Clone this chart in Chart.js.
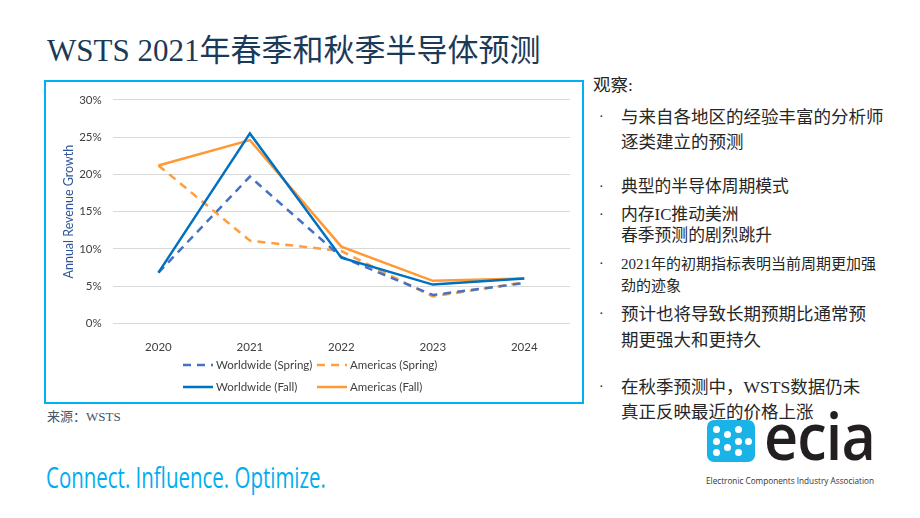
<!DOCTYPE html>
<html>
<head>
<meta charset="utf-8">
<script src="https://cdn.jsdelivr.net/npm/chart.js@4.4.0/dist/chart.umd.min.js"></script>
<style>
  body { margin: 0; width: 920px; height: 518px; background: #fff; position: relative; overflow: hidden;
         font-family: "Liberation Serif", "Noto Sans CJK SC", serif; }
  .abs { position: absolute; white-space: nowrap; }
  #title { left: 47px; top: 31px; font-size: 31px; line-height: 40px; color: #1B3A57; }
  #box { left: 44px; top: 80px; width: 540px; height: 324px; border: 2px solid #00B0F0; box-sizing: border-box; }
  #box canvas { position: absolute; left: 0; top: 0; }
  .leg { position: absolute; font: 11.5px Lato, sans-serif; color: #404040; height: 14px; line-height: 14px; }
  .leg svg { position: absolute; left: 0; top: 5px; }
  .leg span { position: absolute; left: 33px; top: 0; white-space: nowrap; }
  .note { color: #262626; }
  .dot { color: #262626; font-size: 14px; }
  #source { left: 47px; top: 408px; font-size: 13px; line-height: 18px; color: #44546A; }
  #slogan { left: 46px; top: 458px; font: 29px "Open Sans", sans-serif; line-height: 38px; color: #00AEEF; transform-origin: left center; }
  #icon { left: 707px; top: 420px; width: 48px; height: 42px; background: #1AB3E8; border-radius: 7px; overflow: hidden; }
  #icon i { position: absolute; width: 7px; height: 7px; border-radius: 50%; background: #fff; }
  #ecia { left: 764px; top: 398px; font: 600 66px "Open Sans", sans-serif; line-height: 72px; color: #231F20; transform-origin: left center; letter-spacing: -1px; }
  #assoc { left: 706px; top: 475px; font: 9px "Open Sans", sans-serif; line-height: 12px; color: #333; transform-origin: left center; }
</style>
</head>
<body>
<div id="title" class="abs">WSTS 2021年春季和秋季半导体预测</div>
<div id="box" class="abs">
  <canvas id="growthChart" width="536" height="320"></canvas>
</div>
<div id="notes"></div>
<div id="source" class="abs">来源：WSTS</div>
<div id="slogan" class="abs" data-fit="280">Connect. Influence. Optimize.</div>
<div id="icon" class="abs"></div>
<div id="ecia" class="abs" data-fit="111">ecia</div>
<div id="assoc" class="abs" data-fit="168">Electronic Components Industry Association</div>

<script>
// данные графика
const years = ['2020', '2021', '2022', '2023', '2024'];
const worldwideSpring = [6.8, 19.7, 8.9, 3.8, 5.4];
const americasSpring = [21.2, 11.1, 9.7, 3.6, 5.5];
const worldwideFall = [6.8, 25.5, 8.8, 5.2, 6.0];
const americasFall = [21.2, 24.6, 10.3, 5.7, 6.0];
const seriesNames = ['Worldwide (Spring)', 'Americas (Spring)', 'Worldwide (Fall)', 'Americas (Fall)'];
const yMin = 0, yMax = 30, yStep = 5;

const noteLines = [
    { text: '观察:', y: 85, size: 17.5, x: 593, bullet: false },
    { text: '与来自各地区的经验丰富的分析师', y: 117, size: 17.5, bullet: true },
    { text: '逐类建立的预测', y: 142, size: 17.5 },
    { text: '典型的半导体周期模式', y: 187, size: 16.8, bullet: true },
    { text: '内存IC推动美洲', y: 215, size: 16.8, bullet: true },
    { text: '春季预测的剧烈跳升', y: 236, size: 16.8 },
    { text: '2021年的初期指标表明当前周期更加强', y: 264, size: 15, bullet: true },
    { text: '劲的迹象', y: 286, size: 15 },
    { text: '预计也将导致长期预期比通常预', y: 314, size: 17.5, bullet: true },
    { text: '期更强大和更持久', y: 340, size: 17.5 },
    { text: '在秋季预测中，WSTS数据仍未', y: 387, size: 17.5, bullet: true },
    { text: '真正反映最近的价格上涨', y: 412, size: 17.5 }
];

const notes = document.getElementById('notes');
noteLines.forEach(l => {
    const d = document.createElement('div');
    d.className = 'abs note';
    d.textContent = l.text;
    d.style.left = (l.x || 621) + 'px';
    d.style.fontSize = l.size + 'px';
    d.style.lineHeight = '24px';
    d.style.top = (l.y - 12) + 'px';
    notes.appendChild(d);
    if (l.bullet) {
        const b = document.createElement('div');
        b.className = 'abs dot';
        b.textContent = '·';
        b.style.left = '599px';
        b.style.lineHeight = '24px';
        b.style.top = (l.y - 12) + 'px';
        notes.appendChild(b);
    }
});

// значок логотипа
const icon = document.getElementById('icon');
[[6, 6], [6, 17.5], [6, 29], [17, 11], [17, 24], [28, 6], [28, 17.5], [28, 29], [38, 17.5]].forEach(p => {
    const i = document.createElement('i');
    i.style.left = p[0] + 'px';
    i.style.top = p[1] + 'px';
    icon.appendChild(i);
});

const datasets = [
    { label: seriesNames[0], data: worldwideSpring, borderColor: '#4472C4', borderDash: [8, 6], order: 3 },
    { label: seriesNames[1], data: americasSpring, borderColor: '#FF9E3D', borderDash: [8, 6], order: 4 },
    { label: seriesNames[2], data: worldwideFall, borderColor: '#0070C0', borderDash: [], order: 1 },
    { label: seriesNames[3], data: americasFall, borderColor: '#FF9933', borderDash: [], order: 2 }
].map(ds => Object.assign(ds, {
    borderWidth: 2.5,
    pointRadius: 0,
    tension: 0,
    fill: false,
    backgroundColor: ds.borderColor
}));

const ctx = document.getElementById('growthChart').getContext('2d');
new Chart(ctx, {
    type: 'line',
    data: { labels: years, datasets: datasets },
    options: {
        responsive: false,
        animation: false,
        layout: { padding: { top: 12, right: 12, bottom: 0, left: 0 } },
        plugins: {
            legend: { display: false },
            tooltip: { enabled: false }
        },
        scales: {
            x: {
                offset: true,
                grid: { display: false },
                border: { display: false },
                ticks: { color: '#404040', font: { family: 'Lato', size: 11.5 }, padding: 9 },
                afterFit: s => { s.height = 78.7; }
            },
            y: {
                min: yMin,
                max: yMax,
                grid: { color: '#D9D9D9', lineWidth: 1, drawTicks: false },
                border: { display: false },
                ticks: {
                    stepSize: yStep,
                    color: '#404040',
                    font: { family: 'Lato', size: 11.5 },
                    padding: 11,
                    callback: v => v + '%'
                },
                title: {
                    display: true,
                    text: 'Annual Revenue Growth',
                    color: '#2F5597',
                    font: { family: 'Lato', size: 12.5 },
                    padding: { top: 15, bottom: 0 }
                },
                afterFit: s => { s.width = 66.7; }
            }
        }
    }
});

// легенда в две колонки
const box = document.getElementById('box');
const colX = [137, 271];
const rowY = [276, 298];
datasets.forEach((ds, i) => {
    const item = document.createElement('div');
    item.className = 'leg';
    item.style.left = colX[i % 2] + 'px';
    item.style.top = rowY[Math.floor(i / 2)] + 'px';
    const dash = ds.borderDash.length ? ' stroke-dasharray="' + ds.borderDash.join(' ') + '"' : '';
    item.innerHTML = '<svg width="30" height="4"><line x1="0" y1="2" x2="30" y2="2" stroke="' +
        ds.borderColor + '" stroke-width="2.5"' + dash + '/></svg><span>' + ds.label + '</span>';
    box.appendChild(item);
});

// подгонка ширины надписей
document.querySelectorAll('[data-fit]').forEach(el => {
    const w = el.getBoundingClientRect().width;
    el.style.transform = 'scaleX(' + (parseFloat(el.dataset.fit) / w) + ')';
});
</script>
</body>
</html>
